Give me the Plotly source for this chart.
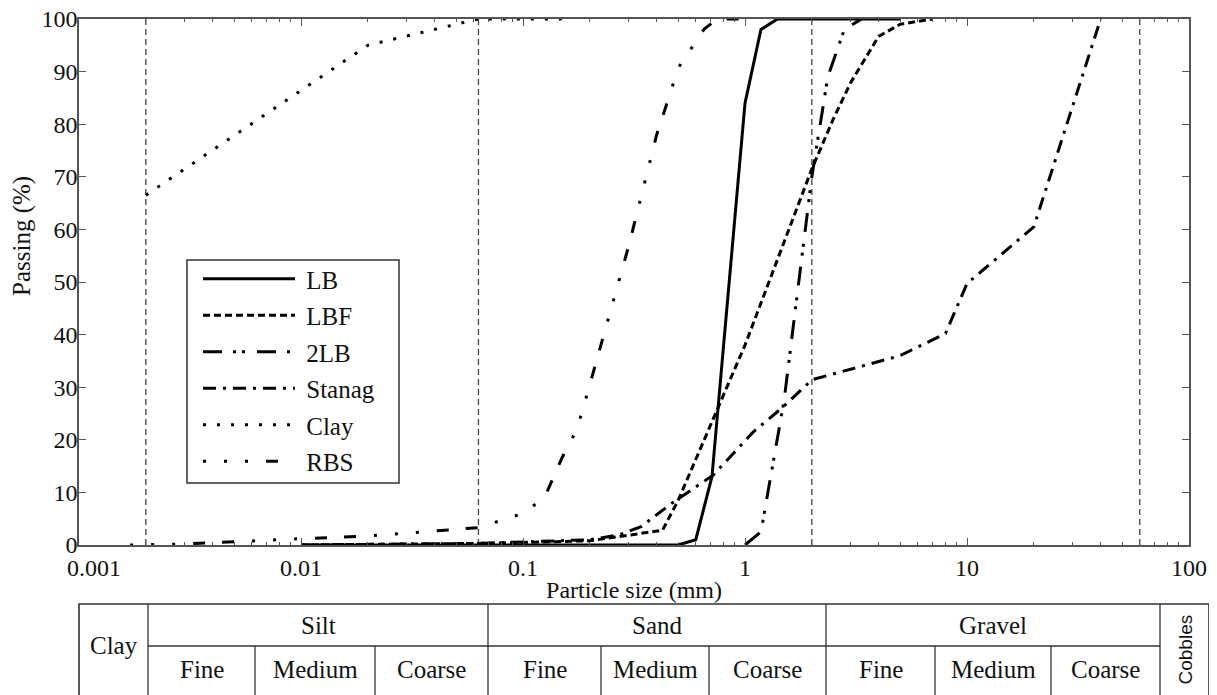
import numpy as np
import plotly.graph_objects as go

# ---------------- data ----------------
lb_size = [0.01, 0.5, 0.6, 0.71, 1.0, 1.18, 1.4, 5.0]
lb_pass = [0, 0, 1, 13, 84, 98, 100, 100]

lbf_size = [0.01, 0.063, 0.2, 0.425, 0.5, 1.0, 2.0, 2.5, 3.0, 4.0, 5.0, 7.0]
lbf_pass = [0, 0.3, 0.8, 2.8, 8.5, 38, 71.5, 81, 88, 96.7, 99, 100]

lb2_size = [1.0, 1.18, 1.5, 2.0, 2.36, 2.8, 3.35]
lb2_pass = [0, 2.5, 27.5, 70, 89, 98, 100]

stanag_size = [0.01, 0.063, 0.2, 0.27, 0.34, 0.47, 0.72, 1.09, 1.48, 2.0, 5.0, 8.0, 10.0, 20.0, 40.0]
stanag_pass = [0, 0.3, 1.0, 1.9, 3.5, 8, 13.3, 21.5, 26.2, 31.4, 36, 40.2, 49.7, 60.5, 100]

clay_size = [0.002, 0.02, 0.063, 0.15]
clay_pass = [66.5, 95, 100, 100]

rbs_size = [0.0017, 0.003, 0.01, 0.02, 0.063, 0.1, 0.125, 0.15, 0.175, 0.2, 0.3, 0.4, 0.45, 0.5, 0.655, 0.75, 1.0]
rbs_pass = [0, 0.2, 1.2, 1.7, 3.3, 6, 9, 16.6, 22, 30.5, 57, 78, 84.6, 90.7, 98.1, 100, 100]

# classification boundaries (mm)
boundaries = [0.002, 0.063, 2, 60]

# classification table (labels)
group_labels = ["Silt", "Sand", "Gravel"]
sub_labels = ["Fine", "Medium", "Coarse"]

x_ticks = [0.001, 0.01, 0.1, 1, 10, 100]
x_ticktext = ["\u00a0" * 5 + "0.001", "0.01", "0.1", "1", "10", "100"]
y_ticks = [0, 10, 20, 30, 40, 50, 60, 70, 80, 90, 100]

series = [
    ("LB", lb_size, lb_pass, "solid"),
    ("LBF", lbf_size, lbf_pass, "7px,4px"),
    ("2LB", lb2_size, lb2_pass, "19px,11px,3px,6px,3px,12px"),
    ("Stanag", stanag_size, stanag_pass, "13px,7px,3px,7px"),
    ("Clay", clay_size, clay_pass, "3px,11px"),
    ("RBS", rbs_size, rbs_pass, "3px,18px,3px,18px,3px,18px,12px,17px,12px,18px"),
]

SERIF = "Liberation Serif"
AX = "#555555"
TXT = "#111111"

# ---- page geometry: the page body adds an 8px offset; plot area targets screen px 79..1189, 19..545
OFF = 8
PL, PR, PT, PB = 79, 1189, 19, 545
PW, PH = PR - PL, PB - PT


def px(xs):
    return (xs - PL) / PW


def py(ys):
    return (PB - ys) / PH


fig = go.Figure()

# vertical boundary lines
for b in boundaries:
    fig.add_trace(go.Scatter(x=[b, b], y=[0, 100], mode="lines",
                             line=dict(color="#444444", width=1.3, dash="6px,4px"),
                             showlegend=False, hoverinfo="skip"))

for i, (name, xs, ys, dash) in enumerate(series):
    fig.add_trace(go.Scatter(x=xs, y=ys, mode="lines", name="\u00a0" + name,
                             legendgroup=f"g{i}",
                             line=dict(color="black", width=3, dash=dash)))

minor_vals = [m * 10 ** e for e in range(-3, 2) for m in range(2, 10)]

fig.update_xaxes(type="log", range=[-3, 2], showline=True, linecolor=AX, linewidth=1.5,
                 mirror="ticks", ticks="inside", ticklen=7, tickcolor=AX, tickwidth=1,
                 tickmode="array", tickvals=x_ticks, ticktext=x_ticktext,
                 minor=dict(tickmode="array", tickvals=minor_vals, ticks="inside",
                            ticklen=3, tickcolor=AX, tickwidth=1),
                 showgrid=False, zeroline=False, automargin=False, ticklabeloverflow="allow",
                 tickfont=dict(family=SERIF, size=24, color=TXT),
                 title=dict(text="Particle size (mm)", font=dict(family=SERIF, size=24, color=TXT),
                            standoff=2))
fig.update_yaxes(range=[0, 100], showline=True, linecolor=AX, linewidth=1.5,
                 mirror="ticks", ticks="inside", ticklen=7, tickcolor=AX, tickwidth=1,
                 tickmode="array", tickvals=y_ticks, ticklabelstandoff=-5,
                 showgrid=False, zeroline=False, automargin=False, ticklabeloverflow="allow",
                 tickfont=dict(family=SERIF, size=24, color=TXT))

# ---------------- classification table below the axis (screen px layout) ----------------
col_px = [79, 148, 255, 375, 488, 601, 709, 826, 935, 1051, 1160, 1209]
ytop_px, ymid_px, ybot_px = 604, 646, 700
lc = "#333333"
shapes = []
shapes.append(dict(type="rect", xref="paper", yref="paper", x0=px(col_px[0]), x1=px(col_px[-1]),
                   y0=py(ybot_px), y1=py(ytop_px), line=dict(color=lc, width=1.6)))
for c in [col_px[1], col_px[4], col_px[7], col_px[10]]:
    shapes.append(dict(type="line", xref="paper", yref="paper", x0=px(c), x1=px(c),
                       y0=py(ybot_px), y1=py(ytop_px), line=dict(color=lc, width=1.3)))
shapes.append(dict(type="line", xref="paper", yref="paper", x0=px(col_px[1]), x1=px(col_px[10]),
                   y0=py(ymid_px), y1=py(ymid_px), line=dict(color=lc, width=1.3)))
for c in [col_px[2], col_px[3], col_px[5], col_px[6], col_px[8], col_px[9]]:
    shapes.append(dict(type="line", xref="paper", yref="paper", x0=px(c), x1=px(c),
                       y0=py(ybot_px), y1=py(ymid_px), line=dict(color=lc, width=1.3)))

# legend frame
shapes.append(dict(type="rect", xref="paper", yref="paper", x0=px(187), x1=px(399),
                   y0=py(483), y1=py(260), line=dict(color="#333", width=1.5),
                   fillcolor="white", layer="below"))


def label(text, x, y, size, family=SERIF, angle=0):
    return dict(text=text, xref="paper", yref="paper", x=px(x), y=py(y), showarrow=False,
                xanchor="center", yanchor="middle", textangle=angle,
                font=dict(family=family, size=size, color=TXT))


annots = []
row1 = (ytop_px + ymid_px) / 2
row2 = (ymid_px + 692) / 2
annots.append(label("Clay", (col_px[0] + col_px[1]) / 2, 645, 25))
for g, lab in enumerate(group_labels):
    a, b = col_px[1 + 3 * g], col_px[4 + 3 * g]
    annots.append(label(lab, (a + b) / 2, row1, 25))
for k in range(9):
    a, b = col_px[1 + k], col_px[2 + k]
    annots.append(label(sub_labels[k % 3], (a + b) / 2, row2, 25))
annots.append(label("Cobbles", (col_px[10] + col_px[11]) / 2, 650, 19, "Liberation Sans", -90))
# y-axis title
annots.append(label("Passing (%)", 22, 236, 25, angle=-90))

fig.update_layout(
    width=1217, height=695,
    margin=dict(l=PL - OFF, r=1217 - PR + OFF, t=PT - OFF, b=695 - PB + OFF),
    plot_bgcolor="white", paper_bgcolor="white",
    shapes=shapes, annotations=annots,
    legend=dict(x=px(198), y=py(256), xanchor="left", yanchor="top",
                bgcolor="rgba(0,0,0,0)", borderwidth=0,
                font=dict(family=SERIF, size=25, color=TXT),
                itemwidth=92, traceorder="grouped", tracegroupgap=1),
)

fig.write_html("out.html")
